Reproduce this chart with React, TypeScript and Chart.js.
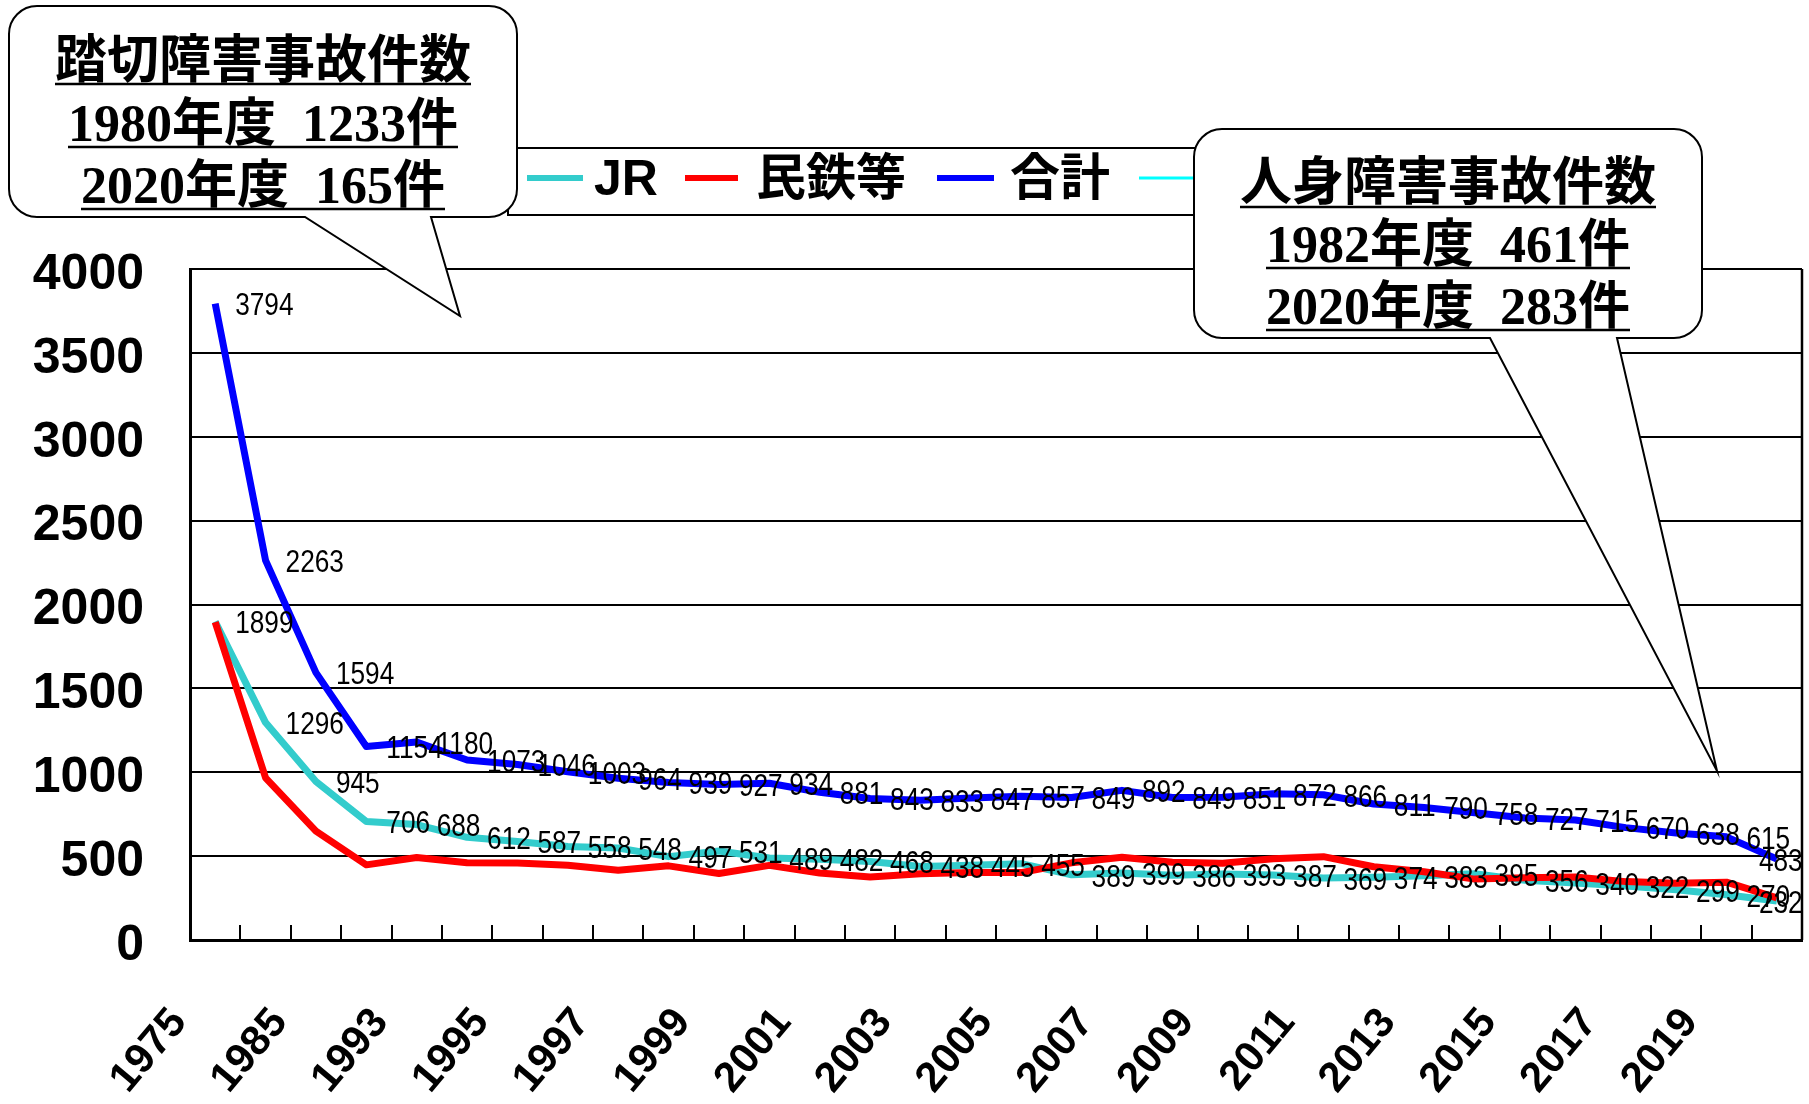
import React, { useEffect, useRef } from 'react';
import { Chart, registerables } from 'chart.js';

Chart.register(...registerables);

// ---- data ----
const years = [
  '1975', '1980', '1985', '1990', '1993', '1994', '1995', '1996', '1997', '1998',
  '1999', '2000', '2001', '2002', '2003', '2004', '2005', '2006', '2007', '2008',
  '2009', '2010', '2011', '2012', '2013', '2014', '2015', '2016', '2017', '2018',
  '2019', '2020',
];
const jrValues = [
  1899, 1296, 945, 706, 688, 612, 587, 558, 548, 497, 531, 489, 482, 468, 438, 445,
  455, 389, 399, 386, 393, 387, 369, 374, 383, 395, 356, 340, 322, 299, 270, 232,
];
const privateValues = [
  1895, 967, 649, 448, 492, 461, 459, 445, 416, 442, 396, 445, 399, 375, 395, 402,
  402, 460, 493, 463, 458, 485, 497, 437, 407, 363, 371, 375, 348, 339, 345, 251,
];
const totalValues = [
  3794, 2263, 1594, 1154, 1180, 1073, 1046, 1003, 964, 939, 927, 934, 881, 843, 833, 847,
  857, 849, 892, 849, 851, 872, 866, 811, 790, 758, 727, 715, 670, 638, 615, 483,
];
const seriesNames = ['JR', '民鉄等', '合計'];
const seriesColors = ['#33CCCC', '#FF0000', '#0000FF'];
const extraLegendColor = '#00FFFF';
const yMin = 0;
const yMax = 4000;
const yStep = 500;

const crossingLines = ['踏切障害事故件数', '1980年度  1233件', '2020年度  165件'];
const injuryLines = ['人身障害事故件数', '1982年度  461件', '2020年度  283件'];

const SANS = "'Liberation Sans', Arial, 'Noto Sans CJK JP', sans-serif";
const SERIF = "'Liberation Serif', 'Times New Roman', 'Noto Sans CJK JP', serif";

function bubble(
  ctx: CanvasRenderingContext2D,
  x0: number, y0: number, x1: number, y1: number, r: number,
  ta: number, tb: number, tipX: number, tipY: number,
) {
  ctx.beginPath();
  ctx.moveTo(x0 + r, y0);
  ctx.lineTo(x1 - r, y0);
  ctx.arcTo(x1, y0, x1, y0 + r, r);
  ctx.lineTo(x1, y1 - r);
  ctx.arcTo(x1, y1, x1 - r, y1, r);
  ctx.lineTo(tb, y1);
  ctx.lineTo(tipX, tipY);
  ctx.lineTo(ta, y1);
  ctx.lineTo(x0 + r, y1);
  ctx.arcTo(x0, y1, x0, y1 - r, r);
  ctx.lineTo(x0, y0 + r);
  ctx.arcTo(x0, y0, x0 + r, y0, r);
  ctx.closePath();
  ctx.fillStyle = '#fff';
  ctx.fill();
  ctx.strokeStyle = '#000';
  ctx.lineWidth = 2;
  ctx.stroke();
}

function underlinedText(ctx: CanvasRenderingContext2D, text: string, cx: number, baseline: number, ul: number) {
  ctx.font = `bold 52px ${SERIF}`;
  ctx.fillStyle = '#000';
  ctx.textAlign = 'center';
  ctx.textBaseline = 'alphabetic';
  ctx.fillText(text, cx, baseline);
  const w = ctx.measureText(text).width;
  ctx.strokeStyle = '#000';
  ctx.lineWidth = 2.5;
  ctx.beginPath();
  ctx.moveTo(cx - w / 2, ul);
  ctx.lineTo(cx + w / 2, ul);
  ctx.stroke();
}

const overlayPlugin = {
  id: 'overlay',
  afterDraw(chart: any) {
    const ctx: CanvasRenderingContext2D = chart.ctx;
    const ca = chart.chartArea;
    ctx.save();
    // right frame of plot area
    ctx.strokeStyle = '#000';
    ctx.lineWidth = 2.5;
    ctx.beginPath();
    ctx.moveTo(ca.right, ca.top);
    ctx.lineTo(ca.right, ca.bottom);
    ctx.stroke();

    // data labels (JR and 合計), narrow digits
    ctx.font = `32px ${SANS}`;
    ctx.fillStyle = '#000';
    ctx.textBaseline = 'middle';
    const sx = 0.82;
    [0, 2].forEach((di) => {
      const meta = chart.getDatasetMeta(di);
      const n = meta.data.length;
      meta.data.forEach((pt: any, i: number) => {
        const last = i === n - 1;
        ctx.save();
        ctx.translate(last ? pt.x + 4 : pt.x + 20, pt.y + 3);
        ctx.scale(sx, 1);
        ctx.textAlign = last ? 'center' : 'left';
        ctx.fillText(String(chart.data.datasets[di].data[i]), 0, 0);
        ctx.restore();
      });
    });

    // legend
    ctx.fillStyle = '#fff';
    ctx.fillRect(508, 148, 800, 67);
    ctx.strokeStyle = '#000';
    ctx.lineWidth = 2;
    ctx.strokeRect(508, 148, 800, 67);
    const legendItems = [
      { x0: 527, x1: 583, tx: 594 },
      { x0: 685, x1: 738, tx: 756 },
      { x0: 937, x1: 994, tx: 1010 },
    ];
    legendItems.forEach((it, i) => {
      ctx.strokeStyle = chart.data.datasets[i].borderColor;
      ctx.lineWidth = 6;
      ctx.beginPath();
      ctx.moveTo(it.x0, 178);
      ctx.lineTo(it.x1, 178);
      ctx.stroke();
      ctx.font = `bold 50px ${SANS}`;
      ctx.fillStyle = '#000';
      ctx.textAlign = 'left';
      ctx.textBaseline = 'middle';
      ctx.fillText(chart.data.datasets[i].label, it.tx, 181);
    });
    ctx.strokeStyle = extraLegendColor;
    ctx.lineWidth = 3;
    ctx.beginPath();
    ctx.moveTo(1139, 178);
    ctx.lineTo(1196, 178);
    ctx.stroke();

    // callouts
    bubble(ctx, 9, 6, 517, 217, 28, 305, 431, 460, 316);
    underlinedText(ctx, crossingLines[0], 263, 78, 84);
    underlinedText(ctx, crossingLines[1], 263, 141, 147);
    underlinedText(ctx, crossingLines[2], 263, 203, 209);

    bubble(ctx, 1194, 129, 1702, 338, 28, 1490, 1617, 1717, 771);
    underlinedText(ctx, injuryLines[0], 1448, 200, 207);
    underlinedText(ctx, injuryLines[1], 1448, 262, 268);
    underlinedText(ctx, injuryLines[2], 1448, 324, 330);
    ctx.restore();
  },
};

export default function App() {
  const ref = useRef<HTMLCanvasElement | null>(null);
  useEffect(() => {
    if (!ref.current) return;
    const chart = new Chart(ref.current, {
      type: 'line',
      data: {
        labels: years,
        datasets: [
          { label: seriesNames[0], data: jrValues, borderColor: seriesColors[0], backgroundColor: seriesColors[0], borderWidth: 7, pointRadius: 0, tension: 0, order: 2, borderJoinStyle: 'round' },
          { label: seriesNames[1], data: privateValues, borderColor: seriesColors[1], backgroundColor: seriesColors[1], borderWidth: 7, pointRadius: 0, tension: 0, order: 1, borderJoinStyle: 'round' },
          { label: seriesNames[2], data: totalValues, borderColor: seriesColors[2], backgroundColor: seriesColors[2], borderWidth: 7, pointRadius: 0, tension: 0, order: 0, borderJoinStyle: 'round' },
        ],
      },
      options: {
        responsive: false,
        animation: false,
        devicePixelRatio: 1,
        layout: { padding: { top: 269, right: 7, left: 0, bottom: 0 } },
        plugins: { legend: { display: false }, tooltip: { enabled: false } },
        scales: {
          x: {
            type: 'category',
            offset: true,
            grid: { display: true, offset: true, drawOnChartArea: false, drawTicks: true, tickLength: -15, color: '#000', lineWidth: 2 },
            border: { display: true, color: '#000', width: 3 },
            ticks: {
              autoSkip: false,
              maxRotation: 50,
              minRotation: 50,
              padding: 74,
              labelOffset: -36,
              color: '#000',
              font: { family: SANS, weight: 'bold', size: 42 },
              callback: (_v: any, i: number) => (i % 2 === 0 ? years[i] : ''),
            },
            afterFit: (s: any) => { s.height = 164; s.paddingLeft = 0; s.paddingRight = 0; },
          },
          y: {
            min: yMin,
            max: yMax,
            ticks: { stepSize: yStep, padding: 46, labelOffset: 6, color: '#000', font: { family: SANS, weight: 'bold', size: 50 }, callback: (v: any) => String(v) },
            grid: { color: '#000', lineWidth: 2, drawTicks: false },
            border: { display: true, color: '#000', width: 3 },
            afterFit: (s: any) => { s.width = 190; s.paddingTop = 0; s.paddingBottom = 0; },
          },
        },
      } as any,
      plugins: [overlayPlugin],
    });
    return () => chart.destroy();
  }, []);
  return (
    <div style={{ position: 'absolute', left: 0, top: 0, width: 1809, height: 1104, background: '#fff' }}>
      <canvas ref={ref} width={1809} height={1104} style={{ width: 1809, height: 1104, display: 'block' }} />
    </div>
  );
}
